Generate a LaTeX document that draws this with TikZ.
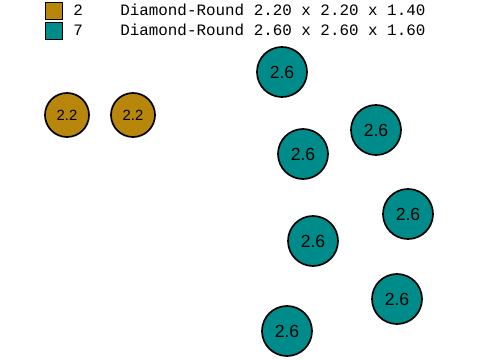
\documentclass[tikz,border=0pt]{standalone}
\usepackage{fontspec}
\setmainfont{Liberation Sans}
\setmonofont{Liberation Mono}
\usepackage{tikz}
\usetikzlibrary{positioning}
\definecolor{diamgold}{RGB}{184, 134, 11}
\definecolor{diamteal}{RGB}{0, 139, 139}

\begin{document}
\begin{tikzpicture}[x=0.025cm, y=-0.025cm,
    smallstone/.style={circle, draw=black, line width=1.2pt, fill=diamgold, minimum size=1.1cm, inner sep=0pt, font=\fontsize{10.5}{10.5}\selectfont},
    bigstone/.style={circle, draw=black, line width=1.2pt, fill=diamteal, minimum size=1.25cm, inner sep=0pt, font=\fontsize{12.5}{12.5}\selectfont},
    keybox/.style={draw=black, very thick, minimum size=0.42cm, inner sep=0pt},
    keytext/.style={anchor=west, inner sep=0pt, font=\fontsize{11.3}{11.3}\ttfamily}]
    \useasboundingbox (0,0) rectangle (480,360);
    % legend
    \node[keybox, fill=diamgold] (keygold) at (54,11) {};
    \node[keybox, fill=diamteal] (keyteal) at (54,31) {};
    \node[keytext] (countgold) at (73,10) {2};
    \node[keytext] (countteal) at (73,30) {7};
    \node[keytext] (sizegold) at (120,10) {Diamond-Round 2.20 x 2.20 x 1.40};
    \node[keytext] (sizeteal) at (120,30) {Diamond-Round 2.60 x 2.60 x 1.60};
    % stones
    \node[smallstone] (gold1) at (67,115) {2.2};
    \node[smallstone] (gold2) at (133,115) {2.2};
    \node[bigstone] (teal1) at (282,72) {2.6};
    \node[bigstone] (teal2) at (376,130) {2.6};
    \node[bigstone] (teal3) at (303,154) {2.6};
    \node[bigstone] (teal4) at (408,214) {2.6};
    \node[bigstone] (teal5) at (313,241) {2.6};
    \node[bigstone] (teal6) at (397,299) {2.6};
    \node[bigstone] (teal7) at (287,331) {2.6};
\end{tikzpicture}
\end{document}
